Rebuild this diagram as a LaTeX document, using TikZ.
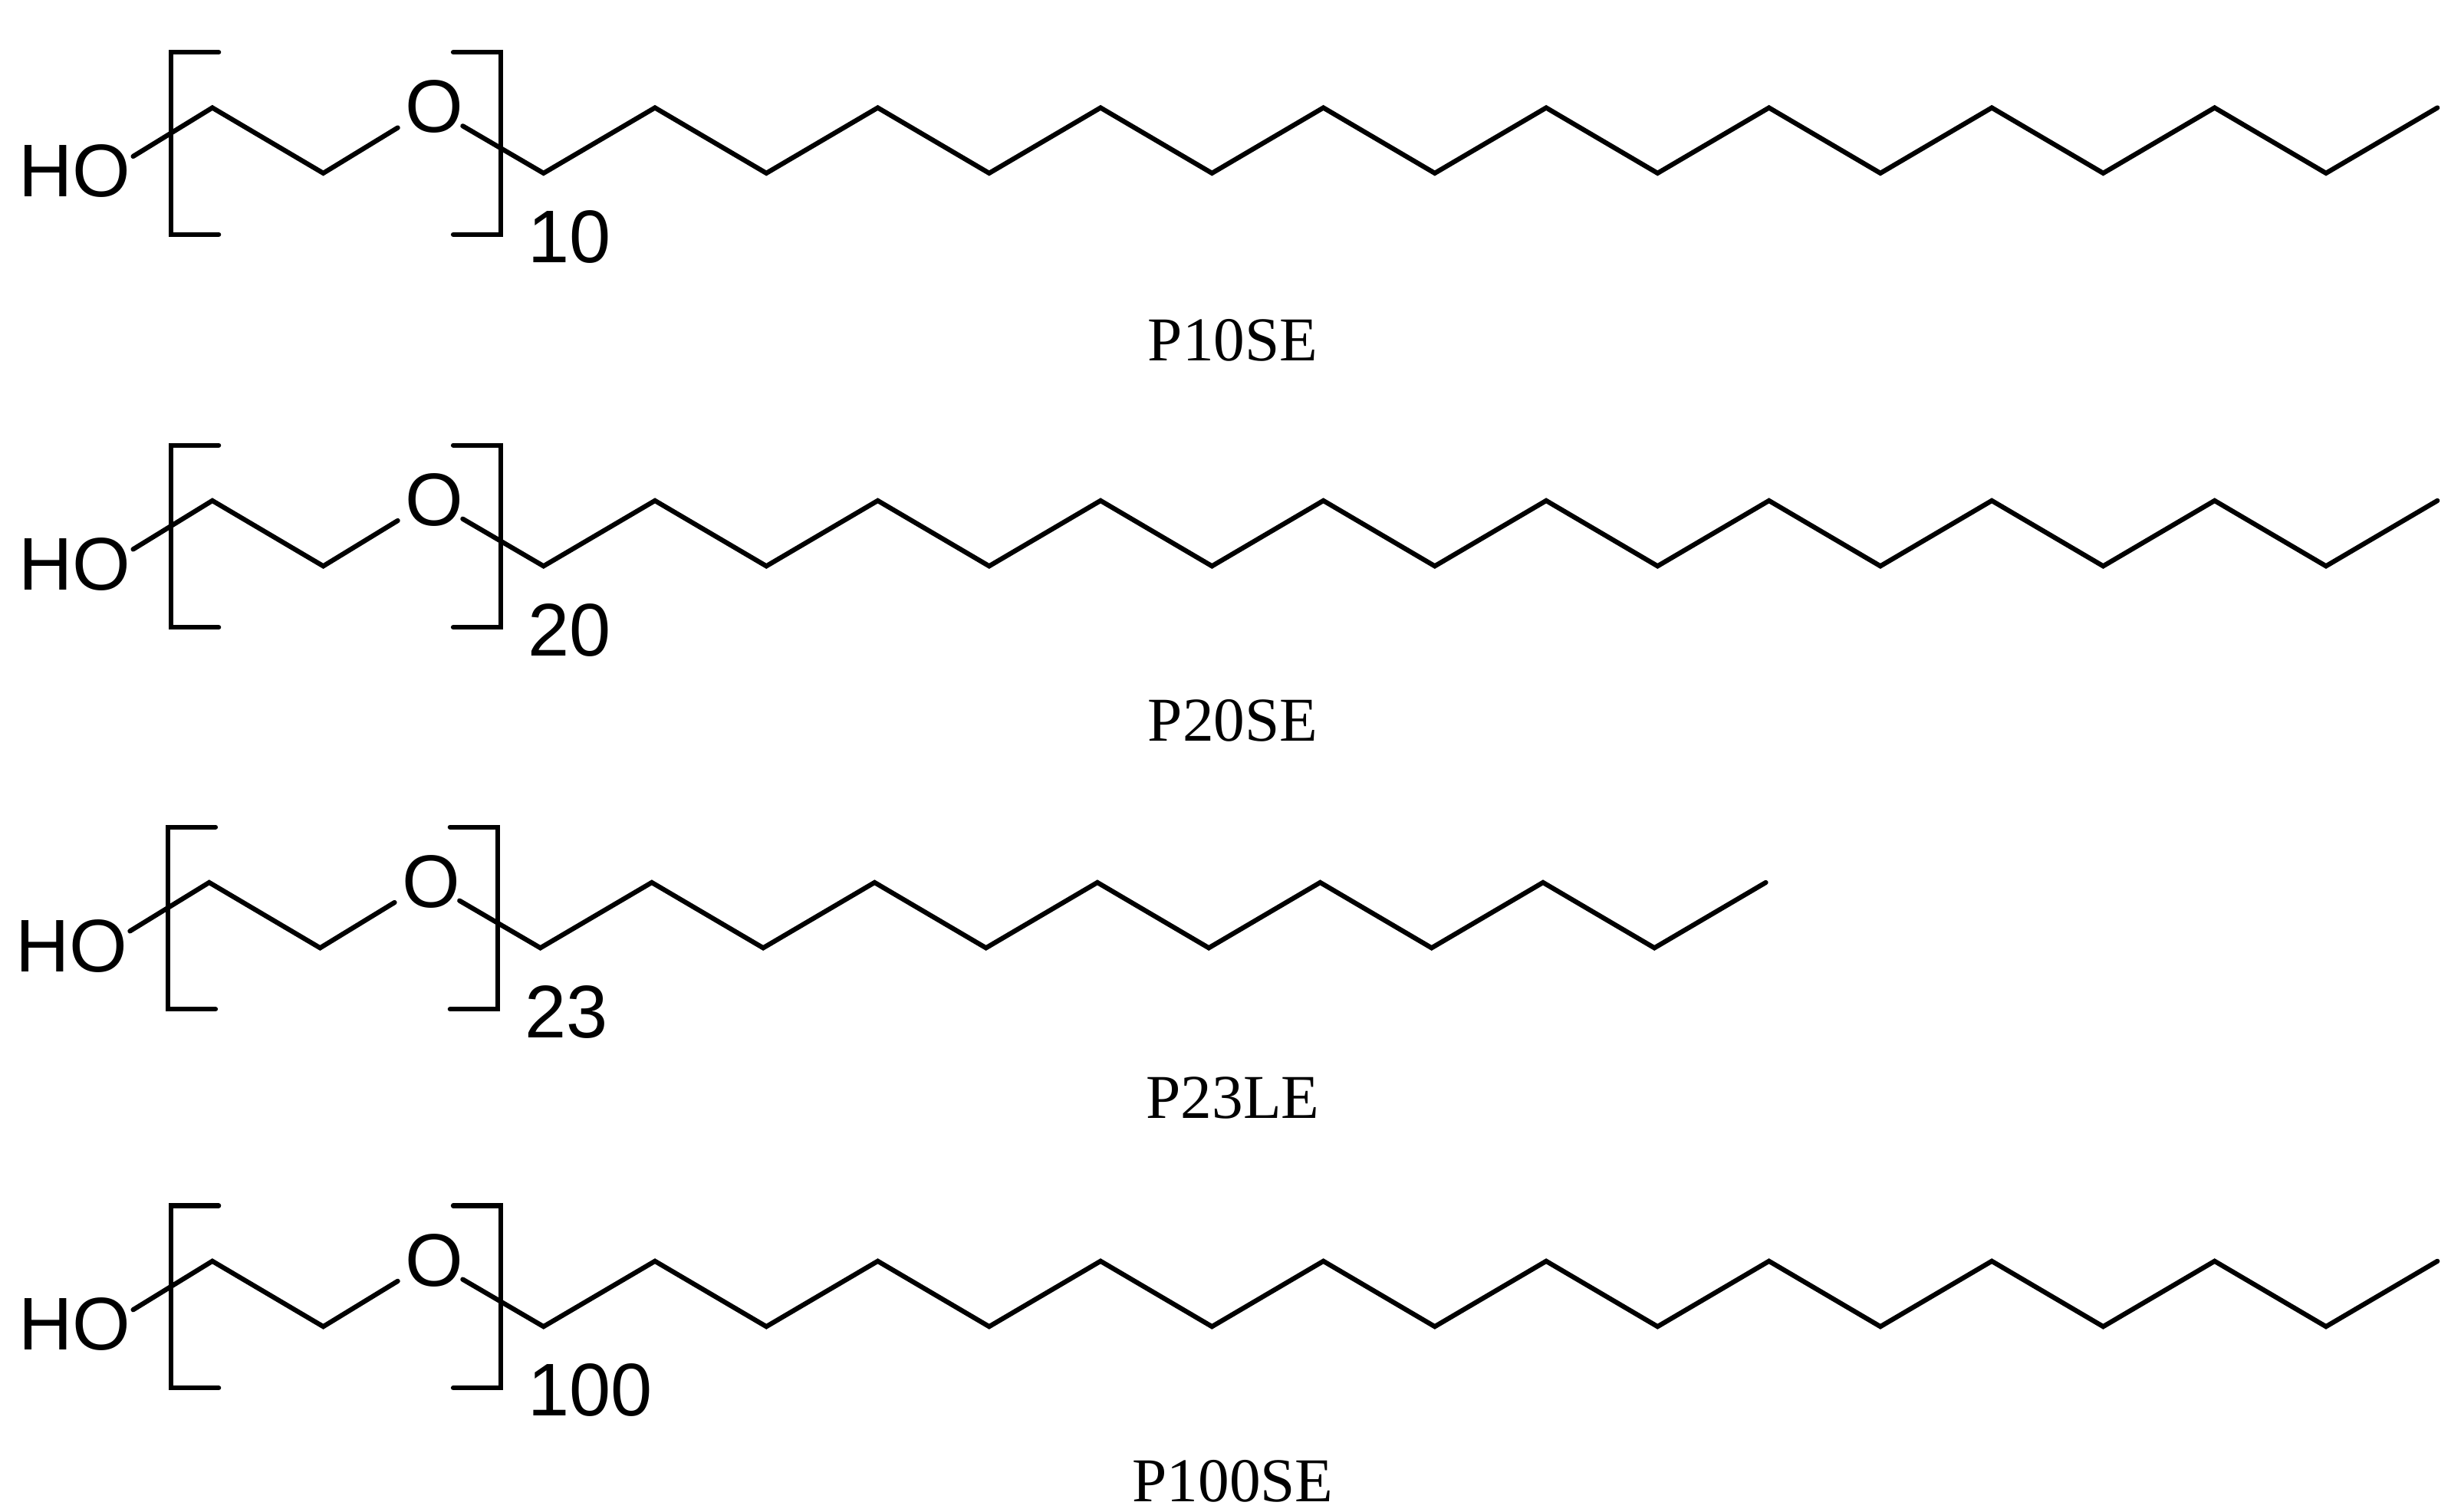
\documentclass[tikz,border=0pt]{standalone}
\usepackage{fontspec}
\setmainfont{Liberation Serif}
\setsansfont{Liberation Sans}
\begin{document}
\begin{tikzpicture}[x=0.05cm,y=-0.05cm,
  bond/.style={line width=4.3pt,line cap=round,line join=miter},
  atom/.style={font=\sffamily\fontsize{67}{70}\selectfont,inner sep=0pt},
  lbl/.style={font=\fontsize{56}{60}\selectfont,inner sep=0pt}]
\useasboundingbox (0,0) rectangle (1553,954);
\newcommand\peomol[5]{%
  \begin{scope}[yshift=#1*-0.05cm,xshift=#5*0.05cm]
    \node[atom] (ho#4) at (47,108) {HO};
    \node[atom] (o#4) at (274,67.5) {O};
    \node[atom,anchor=base west] (n#4) at (333,165.8) {#2};
    \draw[bond] (84,98.7) -- (134,68) -- (204,109.3) -- (251,80.6);
    \draw[bond] (292,79.5) -- (343,109.3)
      \foreach \k in {1,...,#3}{ -- ({343+70.3*\k},{ifthenelse(isodd(\k),68,109.3)}) };
    \draw[bond] (138,33) -- (108,33) -- (108,148) -- (138,148);
    \draw[bond] (286,33) -- (316,33) -- (316,148) -- (286,148);
  \end{scope}}
\peomol{0}{10}{17}{a}{0}
\peomol{248}{20}{17}{b}{0}
\peomol{489}{23}{11}{c}{-2}
\peomol{728}{100}{17}{d}{0}
\node[lbl] (la) at (778,215) {P10SE};
\node[lbl] (lb) at (778,455) {P20SE};
\node[lbl] (lc) at (778,693) {P23LE};
\node[lbl] (ld) at (778,935) {P100SE};
\end{tikzpicture}
\end{document}
